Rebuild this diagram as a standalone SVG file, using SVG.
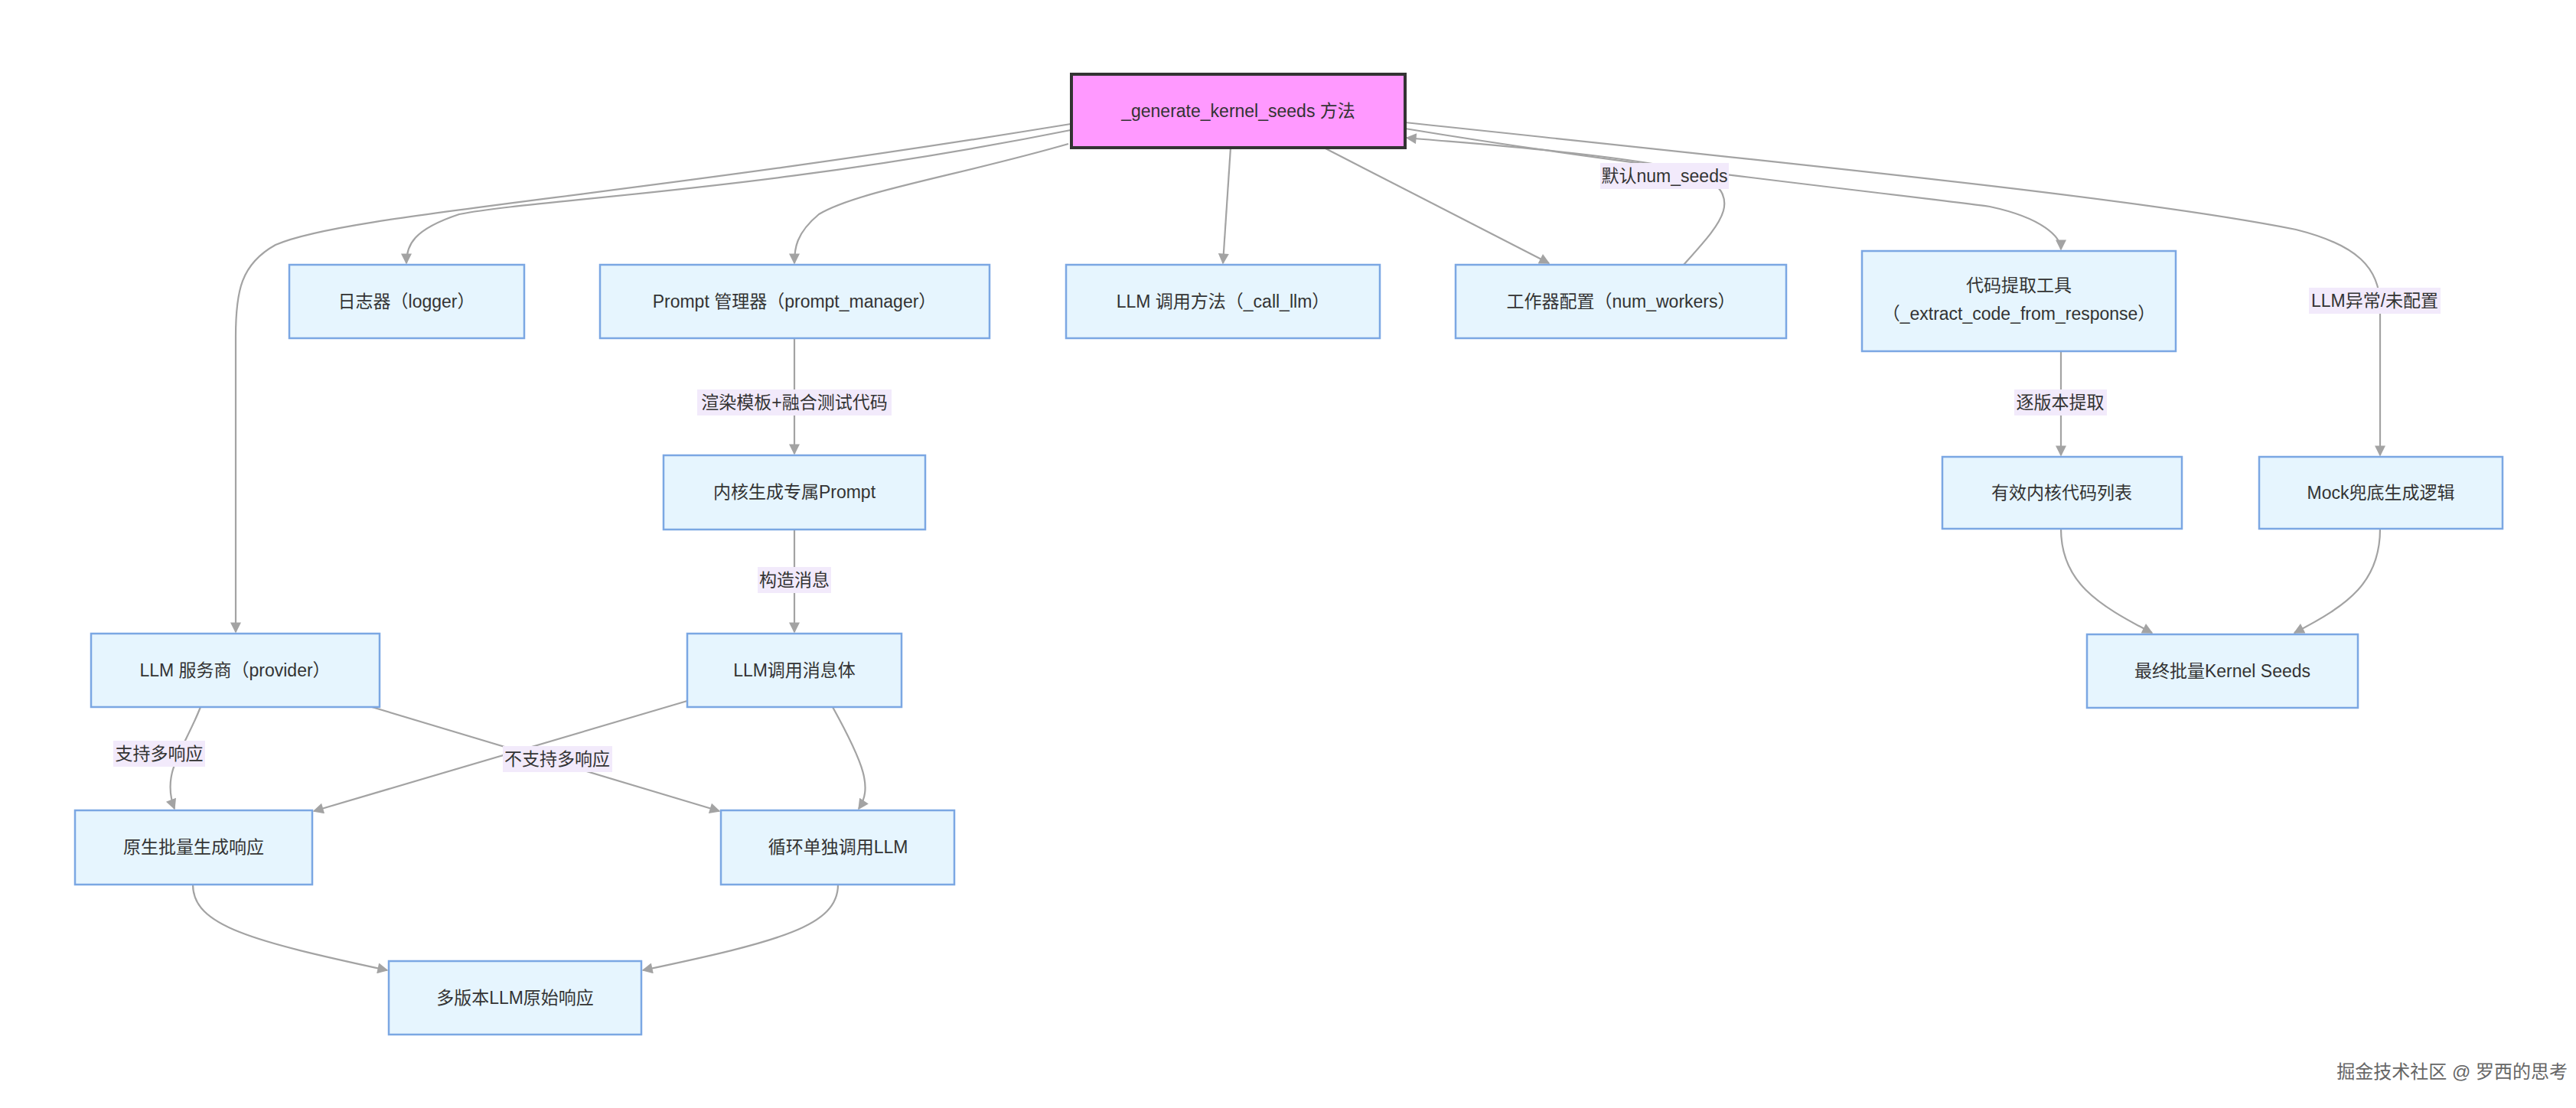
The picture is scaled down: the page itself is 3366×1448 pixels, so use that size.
<svg xmlns="http://www.w3.org/2000/svg" width="3366" height="1448" viewBox="0 0 3366 1448">
<style>
.n rect{fill:#e6f5fe;stroke:#7ba7e3;stroke-width:2.5}
.t{font-family:"Liberation Sans","Noto Sans CJK SC",sans-serif;font-size:23px;fill:#333;text-anchor:middle;dominant-baseline:central}
.e path{fill:none;stroke:#a3a3a3;stroke-width:2.2}
.lb{fill:#f2eafb}
</style>
<defs>
<marker id="a" viewBox="0 0 10 10" refX="9" refY="5" markerWidth="18" markerHeight="14" markerUnits="userSpaceOnUse" orient="auto"><path d="M0,0L10,5L0,10z" fill="#a3a3a3"/></marker>
</defs>
<rect width="3366" height="1448" fill="#fff"/>
<g class="e" id="connectors">
<path marker-end="url(#a)" d="M1399,162 C800,260 450,280 360,320 C315,345 308,380 308,440 L308,826"/>
<path marker-end="url(#a)" d="M1399,170 C1000,250 700,260 600,280 C540,300 531,320 531,344"/>
<path marker-end="url(#a)" d="M1396,188 C1250,230 1120,250 1070,280 C1040,305 1038,325 1038,344"/>
<path marker-end="url(#a)" d="M1608,193 L1598,344"/>
<path marker-end="url(#a)" d="M1730,193 L2024,344"/>
<path marker-end="url(#a)" d="M2200,346 C2250,290 2280,260 2220,225 C2100,200 1950,190 1838,180"/>
<path marker-end="url(#a)" d="M1836,168 C2150,220 2450,250 2600,270 C2670,285 2693,310 2693,326"/>
<path marker-end="url(#a)" d="M1836,160 C2400,220 2800,260 3000,300 C3080,320 3110,350 3110,400 L3110,595"/>
<path marker-end="url(#a)" d="M1038,442 L1038,593"/>
<path marker-end="url(#a)" d="M1038,692 L1038,826"/>
<path marker-end="url(#a)" d="M2693,459 L2693,595"/>
<path marker-end="url(#a)" d="M2693,691 C2693,760 2740,790 2812,827"/>
<path marker-end="url(#a)" d="M3110,691 C3110,760 3070,790 2998,827"/>
<path marker-end="url(#a)" d="M262,924 C240,980 210,1010 228,1057"/>
<path marker-end="url(#a)" d="M486,924 L940,1060"/>
<path marker-end="url(#a)" d="M898,916 L410,1060"/>
<path marker-end="url(#a)" d="M1088,924 C1130,1000 1140,1030 1122,1057"/>
<path marker-end="url(#a)" d="M252,1156 C252,1210 330,1230 506,1268"/>
<path marker-end="url(#a)" d="M1095,1156 C1095,1210 1020,1230 840,1268"/>
<rect class="lb" x="911" y="509" width="254" height="34"/><text class="t" x="1038" y="526">渲染模板+融合测试代码</text>
<rect class="lb" x="990" y="741" width="96" height="34"/><text class="t" x="1038" y="758">构造消息</text>
<rect class="lb" x="2091" y="213" width="168" height="34"/><text class="t" x="2175" y="230">默认num_seeds</text>
<rect class="lb" x="2632" y="509" width="121" height="34"/><text class="t" x="2692" y="526">逐版本提取</text>
<rect class="lb" x="3017" y="376" width="172" height="34"/><text class="t" x="3103" y="393">LLM异常/未配置</text>
<rect class="lb" x="148" y="968" width="120" height="34"/><text class="t" x="208" y="985">支持多响应</text>
<rect class="lb" x="657" y="975" width="143" height="34"/><text class="t" x="728" y="992">不支持多响应</text>
</g>
<g id="main"><rect x="1400" y="97" width="436" height="96" fill="#ff99ff" stroke="#333" stroke-width="4"/><text class="t" x="1618" y="145">_generate_kernel_seeds 方法</text></g>
<g class="n" id="logger"><rect x="378" y="346" width="307" height="96"/><text class="t" x="531" y="394">日志器（logger）</text></g>
<g class="n" id="prompt"><rect x="784" y="346" width="509" height="96"/><text class="t" x="1038" y="394">Prompt 管理器（prompt_manager）</text></g>
<g class="n" id="callllm"><rect x="1393" y="346" width="410" height="96"/><text class="t" x="1598" y="394">LLM 调用方法（_call_llm）</text></g>
<g class="n" id="workers"><rect x="1902" y="346" width="432" height="96"/><text class="t" x="2118" y="394">工作器配置（num_workers）</text></g>
<g class="n" id="extract"><rect x="2433" y="328" width="410" height="131"/><text class="t" x="2638" y="373">代码提取工具</text><text class="t" x="2638" y="410">（_extract_code_from_response）</text></g>
<g class="n" id="kprompt"><rect x="867" y="595" width="342" height="97"/><text class="t" x="1038" y="643">内核生成专属Prompt</text></g>
<g class="n" id="valid"><rect x="2538" y="597" width="313" height="94"/><text class="t" x="2694" y="644">有效内核代码列表</text></g>
<g class="n" id="mock"><rect x="2952" y="597" width="318" height="94"/><text class="t" x="3111" y="644">Mock兜底生成逻辑</text></g>
<g class="n" id="final"><rect x="2727" y="829" width="354" height="96"/><text class="t" x="2904" y="877">最终批量Kernel Seeds</text></g>
<g class="n" id="provider"><rect x="119" y="828" width="377" height="96"/><text class="t" x="307" y="876">LLM 服务商（provider）</text></g>
<g class="n" id="msg"><rect x="898" y="828" width="280" height="96"/><text class="t" x="1038" y="876">LLM调用消息体</text></g>
<g class="n" id="native"><rect x="98" y="1059" width="310" height="97"/><text class="t" x="253" y="1107">原生批量生成响应</text></g>
<g class="n" id="loop"><rect x="942" y="1059" width="305" height="97"/><text class="t" x="1095" y="1107">循环单独调用LLM</text></g>
<g class="n" id="multi"><rect x="508" y="1256" width="330" height="96"/><text class="t" x="673" y="1304">多版本LLM原始响应</text></g>
<text x="3355" y="1400" style="font-family:'Liberation Sans','Noto Sans CJK SC',sans-serif;font-size:24px;fill:#666;text-anchor:end;dominant-baseline:central">掘金技术社区 @ 罗西的思考</text>
</svg>
